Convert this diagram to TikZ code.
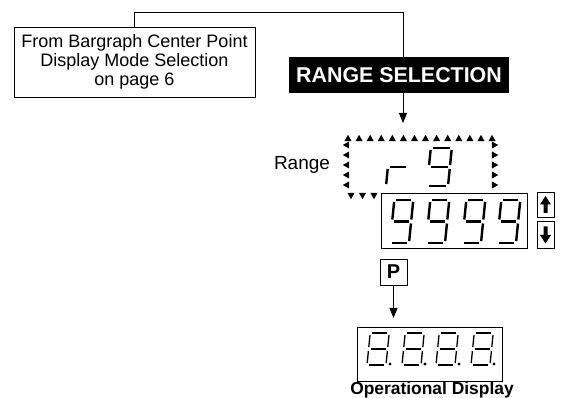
\documentclass[tikz,border=0pt]{standalone}
\usepackage{fontspec}
\setmainfont{Liberation Sans}
\usetikzlibrary{arrows.meta}
\tikzset{
  box/.style={draw, line width=0.8pt, inner sep=0pt},
  conn/.style={line width=0.8pt},
  arr/.style={conn, -{Triangle[length=10pt,width=8pt]}},
  segline/.style={line width=2.4pt, line cap=butt},
  thinseg/.style={segline/.style={line width=1.3pt, line cap=butt}},
}
\def\dG{2}
\def\sega{\draw[segline] ({\dG},{-\dH}) -- ({\dW-\dG},{-\dH});}
\def\segb{\draw[segline] ({\dW},{-\dH+\dG}) -- ({\dW},{-\dH/2-\dG});}
\def\segc{\draw[segline] ({\dW},{-\dH/2+\dG}) -- ({\dW},{-\dG});}
\def\segd{\draw[segline] ({\dG},0) -- ({\dW-\dG},0);}
\def\sege{\draw[segline] (0,{-\dG}) -- (0,{-\dH/2+\dG});}
\def\segf{\draw[segline] (0,{-\dH/2-\dG}) -- (0,{-\dH+\dG});}
\def\segg{\draw[segline] ({\dG},{-\dH/2}) -- ({\dW-\dG},{-\dH/2});}
\newcommand\segdig[5]{%
  \begin{scope}[shift={(#1,#2)}, xslant=0.1]
    \def\dW{#3}\def\dH{#4}%
    \foreach \s in {#5}{\csname seg\s\endcsname}
  \end{scope}}
\newcommand\tup[2]{\fill ({#1-3.6},{#2+3.2}) -- ({#1+3.6},{#2+3.2}) -- ({#1},{#2-3.2}) -- cycle;}
\newcommand\tdn[2]{\fill ({#1-3.6},{#2-3.2}) -- ({#1+3.6},{#2-3.2}) -- ({#1},{#2+3.2}) -- cycle;}
\newcommand\tlf[2]{\fill ({#1+3.2},{#2-3.6}) -- ({#1+3.2},{#2+3.6}) -- ({#1-3.2},{#2}) -- cycle;}
\newcommand\trt[2]{\fill ({#1-3.2},{#2-3.6}) -- ({#1-3.2},{#2+3.6}) -- ({#1+3.2},{#2}) -- cycle;}
\begin{document}
\begin{tikzpicture}[x=1pt,y=-1pt]
\useasboundingbox (0,0) rectangle (571,398);

\node[box, minimum width=241pt, minimum height=70pt, align=center,
      font=\fontsize{18}{19}\selectfont] (from) at (134.5,62)
  {From Bargraph Center Point\\Display Mode Selection\\on page 6};

\node[fill=black, text=white, font=\bfseries\fontsize{21.4}{24}\selectfont,
      minimum width=220pt, minimum height=36pt, inner sep=0pt] (sel) at (399,75) {RANGE SELECTION};

\coordinate (turn) at (403,12);
\draw[conn] (from.north) |- (turn) -- (turn |- sel.north);
\coordinate (rtip) at (403,123);
\draw[arr] (turn |- sel.south) -- (rtip);

\node[font=\fontsize{19}{21}\selectfont] (rlabel) at (302,165) {Range};

% dotted frame of triangles
\foreach \i in {0,...,13} {\tup{348+\i*11.08}{138}}
\foreach \j in {0,...,4} {\tlf{346}{145+\j*10}}
\foreach \j in {0,...,4} {\trt{495}{145+\j*10}}
\foreach \i in {0,...,2} {\tdn{351+\i*11.5}{196}}

% r 9
\segdig{386}{186}{20}{38}{e,g}
\segdig{427}{186}{21}{38}{a,b,c,d,f,g}

% value box
\node[box, minimum width=146pt, minimum height=55pt] (val) at (454,220.5) {};
\foreach \x in {390,426,462,497} {\segdig{\x}{243}{19}{43}{a,b,c,d,f,g}}

% buttons
\node[box, minimum width=17pt, minimum height=25pt] (up) at (545.5,204.5) {};
\node[box, minimum width=17pt, minimum height=27pt] (down) at (545.5,234.5) {};
\begin{scope}[shift={(up.center)}]
  \fill (0,-8.5) -- (5.5,0) -- (2,0) -- (2,8.5) -- (-2,8.5) -- (-2,0) -- (-5.5,0) -- cycle;
\end{scope}
\begin{scope}[shift={(down.center)}]
  \fill (0,9) -- (5.5,0.5) -- (2,0.5) -- (2,-8) -- (-2,-8) -- (-2,0.5) -- (-5.5,0.5) -- cycle;
\end{scope}

% P key
\node[box, minimum width=27pt, minimum height=26pt, font=\bfseries\fontsize{20}{22}\selectfont] (p) at (393.5,272) {P};
\coordinate (ptip) at (393.5,318);
\draw[arr] (p.south) -- (ptip);

% operational display
\node[box, minimum width=145pt, minimum height=54pt] (op) at (429.5,354) {};
\begin{scope}[thinseg]
\foreach \x in {367,402,436,471} {\segdig{\x}{365}{19}{32}{a,b,c,d,e,f,g}
  \fill (\x+23,364) circle (1.7);}
\end{scope}
\node[font=\bfseries\fontsize{17.4}{19}\selectfont] (oplabel) at (432,390) {Operational Display};
\end{tikzpicture}
\end{document}
